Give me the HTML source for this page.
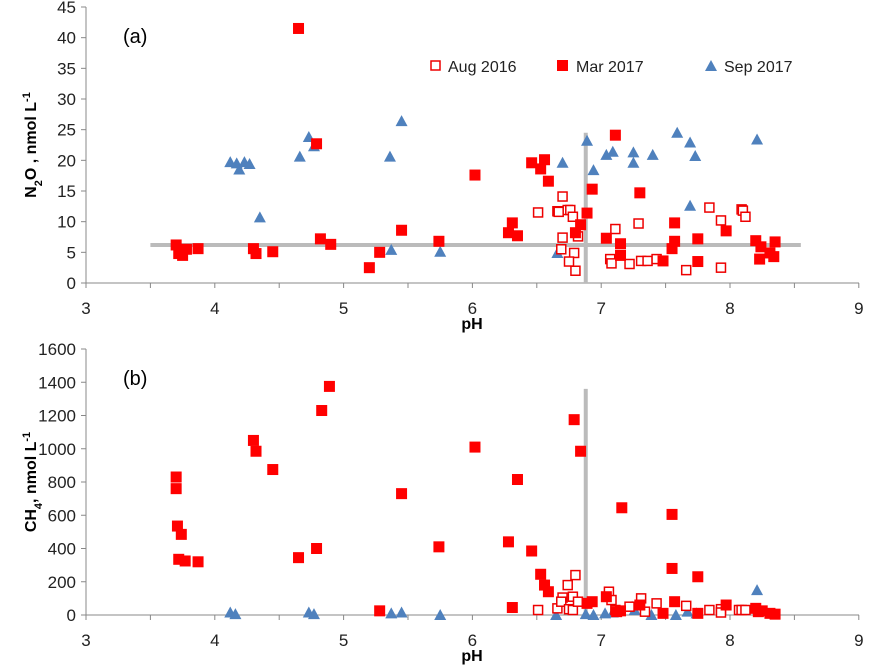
<!DOCTYPE html>
<html><head><meta charset="utf-8"><style>
body{margin:0;background:#fff}
svg{display:block;font-family:"Liberation Sans",Arial,sans-serif}
</style></head><body>
<svg id="c" width="872" height="672" xmlns="http://www.w3.org/2000/svg"></svg>
<script>
const xTicks=[3,4,5,6,7,8,9];
const yTicksA=[0,5,10,15,20,25,30,35,40,45];
const yTicksB=[0,200,400,600,800,1000,1200,1400,1600];
const augA=[[6.70,14.1],[6.51,11.5],[6.66,11.7],[6.67,11.6],[6.74,11.9],[6.76,11.9],[6.78,10.8],[6.70,7.4],[6.82,7.6],[6.69,5.5],[6.79,4.9],[6.75,3.5],[6.80,2.0],[7.11,8.8],[7.07,3.9],[7.08,3.2],[7.22,3.1],[7.29,9.7],[7.31,3.6],[7.36,3.6],[7.43,3.9],[7.66,2.1],[7.84,12.3],[7.93,10.2],[7.93,2.5],[8.09,12.0],[8.10,11.8],[8.12,10.8]];
const marA=[[4.65,41.5],[4.79,22.7],[3.70,6.2],[3.72,4.8],[3.75,4.5],[3.78,5.5],[3.87,5.6],[4.30,5.6],[4.32,4.8],[4.45,5.1],[4.82,7.2],[4.90,6.3],[5.20,2.5],[5.28,5.0],[5.45,8.6],[5.74,6.8],[6.02,17.6],[6.46,19.6],[6.56,20.1],[6.53,18.6],[6.59,16.6],[6.31,9.8],[6.28,8.2],[6.35,7.7],[6.93,15.3],[6.89,11.4],[6.84,9.5],[6.80,8.2],[7.04,7.3],[7.15,6.4],[7.15,4.5],[7.30,14.7],[7.48,3.6],[7.57,9.8],[7.57,6.8],[7.55,5.6],[7.75,7.2],[7.75,3.5],[7.97,8.5],[8.20,6.9],[8.24,5.9],[8.35,6.7],[8.31,4.9],[8.34,4.3],[8.23,3.9],[7.11,24.1]];
const sepA=[[4.12,19.7],[4.17,19.5],[4.19,18.5],[4.23,19.7],[4.27,19.4],[4.35,10.7],[4.66,20.6],[4.73,23.8],[4.77,22.3],[5.36,20.6],[5.37,5.4],[5.45,26.4],[5.75,5.1],[6.66,4.9],[6.70,19.6],[6.89,23.2],[6.94,18.4],[7.04,20.9],[7.09,21.4],[7.25,21.3],[7.25,19.6],[7.40,20.9],[7.59,24.5],[7.69,22.9],[7.69,12.6],[7.73,20.7],[8.21,23.4]];
const augB=[[6.51,30],[6.66,40],[6.70,105],[6.69,80],[6.74,180],[6.80,240],[6.78,110],[6.75,35],[6.78,30],[6.82,80],[7.06,140],[7.08,90],[7.11,30],[7.22,50],[7.31,100],[7.34,20],[7.43,70],[7.66,55],[7.84,30],[7.93,35],[7.93,15],[8.07,30],[8.09,30],[8.12,30]];
const marB=[[3.70,830],[3.70,760],[3.71,535],[3.74,485],[3.72,335],[3.77,325],[3.87,320],[4.30,1050],[4.32,985],[4.45,875],[4.65,345],[4.79,400],[4.83,1230],[4.89,1375],[5.28,25],[5.45,730],[5.74,410],[6.02,1010],[6.28,440],[6.31,45],[6.35,815],[6.46,385],[6.53,245],[6.56,180],[6.59,140],[6.79,1175],[6.84,985],[6.89,70],[6.93,80],[7.04,110],[7.12,20],[7.15,25],[7.30,60],[7.48,10],[7.55,280],[7.57,80],[7.75,230],[7.75,10],[7.97,60],[8.20,40],[8.25,25],[8.31,10],[8.35,5],[8.22,20],[7.16,645],[7.55,605]];
const sepB=[[4.12,15],[4.16,5],[4.73,15],[4.77,5],[5.37,10],[5.45,15],[5.75,0],[6.65,0],[6.88,5],[6.94,0],[7.03,10],[7.09,15],[7.24,50],[7.26,30],[7.39,0],[7.58,0],[7.67,20],[7.74,10],[8.21,150]];
const refA={h:6.2,hx0:3.5,hx1:8.55,v:6.88,vtop:24.5};
const refB={v:6.88,vtop:1360};

const S=document.getElementById('c');const NS='http://www.w3.org/2000/svg';
function el(t,a,p){const e=document.createElementNS(NS,t);for(const k in a)e.setAttribute(k,a[k]);(p||S).appendChild(e);return e;}
const X=v=>86+(v-3)*128.8;
function panel(id,y0,y1,ymax,yt,aug,mar,sep,ref,lbl,ylab){
  const Y=v=>y0-(v/ymax)*(y0-y1);
  const g=el('g',{});
  el('line',{x1:86,y1:y1,x2:86,y2:y0,stroke:'#888','stroke-width':1},g);
  el('line',{x1:86,y1:y0,x2:859,y2:y0,stroke:'#888','stroke-width':1},g);
  yt.forEach(v=>{el('line',{x1:81,x2:86,y1:Y(v),y2:Y(v),stroke:'#888'},g);
    const t=el('text',{x:76,y:Y(v)+6,'text-anchor':'end','font-size':17,fill:'#222'},g);t.textContent=v;});
  for(let v=3;v<=9.001;v+=0.5)el('line',{x1:X(v),x2:X(v),y1:y0,y2:y0+5,stroke:'#888'},g);
  xTicks.forEach(v=>{const t=el('text',{x:X(v),y:y0+31,'text-anchor':'middle','font-size':17,fill:'#222'},g);t.textContent=v;});
  const xl=el('text',{x:472,y:y0+46,'font-size':16,'font-weight':'bold',fill:'#000','text-anchor':'middle'},g);
  xl.textContent='pH';
  const yl=el('text',{transform:`translate(36,${(y0+y1)/2}) rotate(-90)`,'font-size':16,'font-weight':'bold','text-anchor':'middle',fill:'#000'},g);
  yl.innerHTML=ylab;
  const pl=el('text',{x:123,y:y1+36,'font-size':20,fill:'#000'},g);pl.textContent=lbl;
  if(ref.h!==undefined){const l=el('line',{x1:X(ref.hx0),x2:X(ref.hx1),y1:Y(ref.h),y2:Y(ref.h),stroke:'#bbb','stroke-width':4},g);}
  const vl=el('line',{x1:X(ref.v),x2:X(ref.v),y1:Y(0),y2:Y(ref.vtop),stroke:'#bbb','stroke-width':4},g);
  sep.forEach(d=>{const x=X(d[0]),y=Y(d[1]);const p=el('polygon',{points:`${x},${y-6} ${x-6},${y+5} ${x+6},${y+5}`,fill:'#4F81BD'},g);});
  aug.forEach(d=>{const r=el('rect',{x:X(d[0])-4.5,y:Y(d[1])-4.5,width:9,height:9,fill:'#fff',stroke:'#e00','stroke-width':1.5},g);});
  mar.forEach(d=>{const r=el('rect',{x:X(d[0])-5.5,y:Y(d[1])-5.5,width:11,height:11,fill:'#f00'},g);});
}
panel('panel-a',283,7,45,yTicksA,augA,marA,sepA,refA,'(a)','N<tspan baseline-shift="sub" font-size="11">2</tspan>O , nmol L<tspan baseline-shift="super" font-size="11">-1</tspan>');
panel('panel-b',615,349,1600,yTicksB,augB,marB,sepB,refB,'(b)','CH<tspan baseline-shift="sub" font-size="11">4</tspan>, nmol L<tspan baseline-shift="super" font-size="11">-1</tspan>');
const lg=el('g',{});
el('rect',{x:431,y:61,width:9,height:9,fill:'#fff',stroke:'#e00','stroke-width':1.5},lg);
let t=el('text',{x:448,y:72,'font-size':16,fill:'#222'},lg);t.textContent='Aug 2016';
el('rect',{x:557,y:60,width:11,height:11,fill:'#f00'},lg);
t=el('text',{x:576,y:72,'font-size':16,fill:'#222'},lg);t.textContent='Mar 2017';
el('polygon',{points:'711,60 705,71 717,71',fill:'#4F81BD'},lg);
t=el('text',{x:724,y:72,'font-size':16,fill:'#222'},lg);t.textContent='Sep 2017';
</script>
</body></html>
